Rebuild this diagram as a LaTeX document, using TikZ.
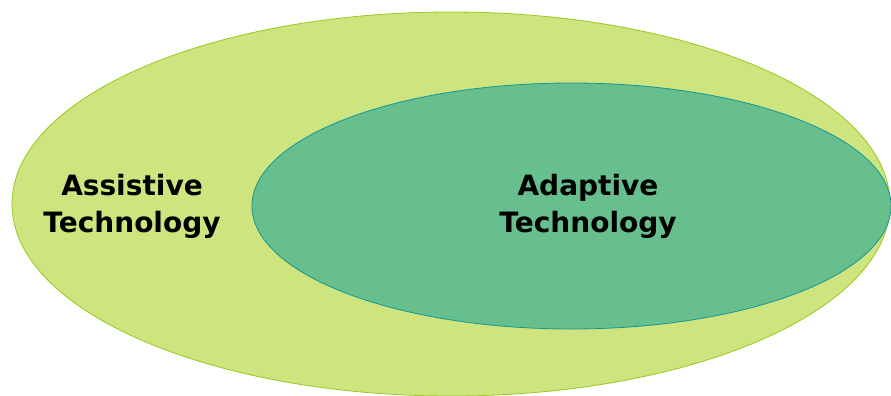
\documentclass[tikz,border=0pt]{standalone}
\usepackage{fontspec}
\setmainfont{DejaVu Sans}
\usepackage{xcolor}
\usepackage{tikz}
\usetikzlibrary{shapes.geometric}

\definecolor{assistfill}{RGB}{205,228,127}
\definecolor{assistline}{RGB}{154,200,30}
\definecolor{adaptfill}{RGB}{102,191,140}
\definecolor{adaptline}{RGB}{20,150,150}

\begin{document}
\begin{tikzpicture}[x=1pt, y=-1pt,
      set/.style={
        draw,
        ellipse,
        inner sep=0pt,
        line width=0.8pt
      },
      lbl/.style={
        align=center,
        font=\bfseries\fontsize{28}{37}\selectfont
      }
      ]
        \useasboundingbox (0,0) rectangle (891,396);

        \node[set, fill=assistfill, draw=assistline, minimum width=878pt, minimum height=384pt] (assist) at (451,204) {};
        \node[set, fill=adaptfill, draw=adaptline, minimum width=639pt, minimum height=246pt] (adapt) at (571.5,206) {};

        % labels
        \node[lbl] (assistlbl) at (132,206) {Assistive\\Technology};
        \node[lbl] (adaptlbl) at (588,206) {Adaptive\\Technology};
    \end{tikzpicture}
\end{document}
